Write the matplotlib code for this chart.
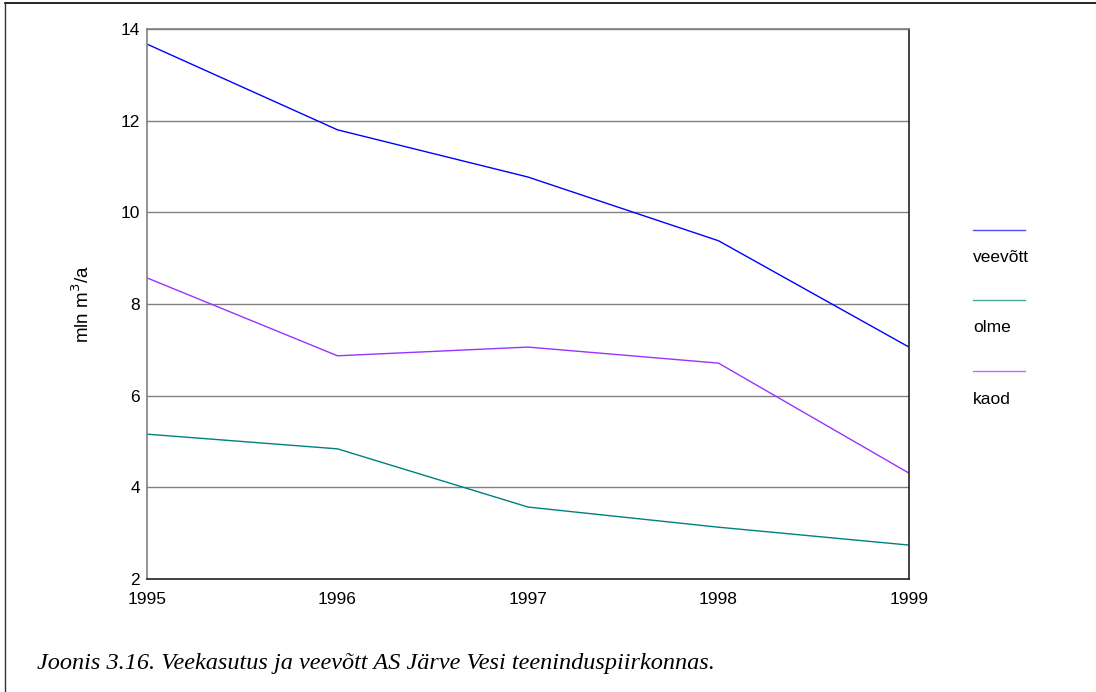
import matplotlib
matplotlib.use("Agg")
import matplotlib.pyplot as plt
from matplotlib.lines import Line2D

years = [1995, 1996, 1997, 1998, 1999]
veevott = [13.67, 11.80, 10.77, 9.38, 7.06]
olme = [5.16, 4.84, 3.57, 3.13, 2.74]
kaod = [8.57, 6.87, 7.06, 6.71, 4.31]

series_names = ["veevõtt", "olme", "kaod"]
series_colors = ["#0000FF", "#008080", "#9933FF"]
y_ticks = [2, 4, 6, 8, 10, 12, 14]

plt.rcParams["font.family"] = ["Liberation Sans", "DejaVu Sans"]

W, H = 1096, 692
fig = plt.figure(figsize=(W / 100, H / 100), dpi=100)
fig.patch.set_facecolor("white")

ax = fig.add_axes([147 / W, 1 - 579 / H, (909 - 147) / W, (579 - 29) / H])

for vals, name, col in zip([veevott, olme, kaod], series_names, series_colors):
    ax.plot(years, vals, color=col, lw=1.0, label=name)

ax.set_xlim(1995, 1999)
ax.set_ylim(2, 14)
ax.set_xticks(years)
ax.set_yticks(y_ticks)
ax.yaxis.grid(True, color="#808080", lw=1.0)
ax.set_axisbelow(True)
ax.tick_params(axis="both", length=0, labelsize=12.5, colors="black")
ax.tick_params(axis="x", pad=9)
ax.tick_params(axis="y", pad=5)

ax.spines["left"].set_color("#808080")
ax.spines["top"].set_color("#808080")
ax.spines["right"].set_color("#222222")
ax.spines["bottom"].set_color("#222222")
for s in ax.spines.values():
    s.set_linewidth(1.2)

ax.set_ylabel("mln m$^3$/a", fontsize=13.5, labelpad=20)

# legend drawn manually: short line above each label
leg_x0, leg_x1 = 973 / W, 1025 / W
line_ys = [230, 300, 371]
for name, col, ly in zip(series_names, series_colors, line_ys):
    fig.add_artist(Line2D([leg_x0, leg_x1], [1 - ly / H, 1 - ly / H],
                          color=col, lw=1.0, alpha=0.7))
    fig.text(leg_x0, 1 - (ly + 28) / H, name, fontsize=12.5,
             ha="left", va="center")

# frame around the figure (top and left edges)
fig.add_artist(Line2D([5 / W, 1], [1 - 3 / H, 1 - 3 / H], color="black", lw=1.2))
fig.add_artist(Line2D([5 / W, 5 / W], [0, 1 - 3 / H], color="#333333", lw=1.0))

fig.text(37 / W, 1 - 664 / H,
         "Joonis 3.16. Veekasutus ja veevõtt AS Järve Vesi teeninduspiirkonnas.",
         fontsize=17.5, family=["Liberation Serif", "DejaVu Serif"], style="italic",
         ha="left", va="center")

fig.savefig("out.png", dpi=100, facecolor="white")
